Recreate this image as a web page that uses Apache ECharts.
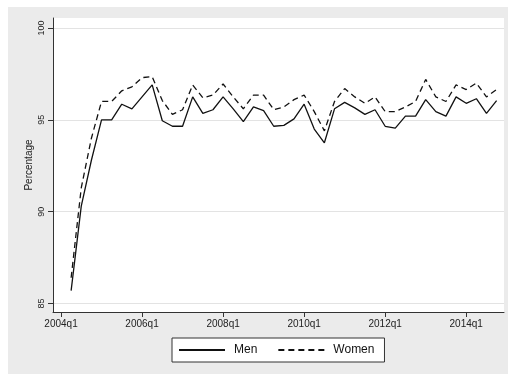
<!DOCTYPE html>
<html>
<head>
<meta charset="utf-8">
<script src="https://cdn.jsdelivr.net/npm/echarts@6/dist/echarts.min.js"></script>
<style>
html,body{margin:0;padding:0;background:#fff;width:508px;height:374px;overflow:hidden;}
#c{position:absolute;left:8px;top:7px;width:500px;height:367px;}
</style>
</head>
<body>
<div id="c"></div>
<script>
var quarters = ["2004q2","2004q3","2004q4",
"2005q1","2005q2","2005q3","2005q4",
"2006q1","2006q2","2006q3","2006q4",
"2007q1","2007q2","2007q3","2007q4",
"2008q1","2008q2","2008q3","2008q4",
"2009q1","2009q2","2009q3","2009q4",
"2010q1","2010q2","2010q3","2010q4",
"2011q1","2011q2","2011q3","2011q4",
"2012q1","2012q2","2012q3","2012q4",
"2013q1","2013q2","2013q3","2013q4",
"2014q1","2014q2","2014q3","2014q4"];
var men = [85.7,90.3,92.8,
95.0,95.0,95.85,95.6,
96.25,96.9,94.95,94.65,
94.65,96.25,95.35,95.55,
96.25,95.6,94.9,95.7,
95.5,94.65,94.7,95.05,
95.85,94.5,93.75,95.6,
95.95,95.65,95.3,95.55,
94.65,94.55,95.2,95.2,
96.1,95.45,95.2,96.25,
95.9,96.15,95.35,96.05];
var women = [86.4,91.3,94.0,
96.0,96.0,96.58,96.8,
97.3,97.35,96.05,95.3,
95.55,96.9,96.2,96.35,
96.95,96.25,95.6,96.35,
96.35,95.55,95.7,96.1,
96.35,95.45,94.4,96.0,
96.7,96.25,95.9,96.25,
95.45,95.45,95.7,96.0,
97.2,96.25,96.0,96.9,
96.65,97.0,96.25,96.65];
var xTickLabels = ["2004q1","2006q1","2008q1","2010q1","2012q1","2014q1"];
var yTicks = [85,90,95,100];
var seriesNames = ["Men","Women"];

function qIndex(s){
  var y = parseInt(s.slice(0,4),10), q = parseInt(s.slice(5),10);
  return (y - 2004) * 4 + (q - 1);
}
var xTickVals = xTickLabels.map(qIndex);
var labelMap = {};
xTickLabels.forEach(function(l){ labelMap[qIndex(l)] = l; });

function pairs(vals){ return quarters.map(function(q,i){ return [qIndex(q), vals[i]]; }); }

var chart = echarts.init(document.getElementById('c'), null, {renderer:'canvas'});
var font = 'Liberation Sans, Arial, sans-serif';
chart.setOption({
  animation:false,
  backgroundColor:'#ebebeb',
  textStyle:{fontFamily:font},
  grid:{left:45, top:11, right:4, bottom:62, show:true, backgroundColor:'#ffffff', borderWidth:0},
  xAxis:{
    type:'value', min:-0.79, max:43.73,
    axisLine:{show:true, onZero:false, lineStyle:{color:'#333', width:1}},
    axisTick:{show:true, customValues:xTickVals, length:5, lineStyle:{color:'#333'}},
    axisLabel:{customValues:xTickVals, formatter:function(v){return labelMap[v]||'';}, color:'#222', fontSize:10, margin:7, fontFamily:font},
    splitLine:{show:false}
  },
  yAxis:{
    type:'value', min:84.537, max:100.545,
    name:'Percentage', nameLocation:'middle', nameGap:19, nameRotate:90, nameMoveOverlap:false,
    nameTextStyle:{color:'#222', fontSize:10, fontFamily:font},
    axisLine:{show:true, onZero:false, lineStyle:{color:'#333', width:1}},
    axisTick:{show:true, customValues:yTicks, length:5, lineStyle:{color:'#333'}},
    axisLabel:{customValues:yTicks, rotate:90, color:'#222', fontSize:9, margin:7, fontFamily:font},
    splitLine:{show:true, lineStyle:{color:'#e3e3e3', width:1}}
  },
  legend:{
    left:164, top:331, orient:'horizontal',
    backgroundColor:'#ffffff', borderColor:'#333', borderWidth:1, borderRadius:0,
    padding:[6,10,6,6], itemGap:20, itemWidth:46, itemHeight:12,
    itemStyle:{color:'rgba(0,0,0,0)', borderWidth:0, opacity:0},
    textStyle:{color:'#111', fontSize:12, fontFamily:font, padding:[0,0,0,4]},
    data:seriesNames
  },
  series:[
    {name:seriesNames[0], type:'line', data:pairs(men), symbol:'none', showSymbol:false,
     lineStyle:{color:'#111', width:1.3, type:'solid'}, itemStyle:{color:'#111'}},
    {name:seriesNames[1], type:'line', data:pairs(women), symbol:'none', showSymbol:false,
     lineStyle:{color:'#111', width:1.3, type:[6,4]}, itemStyle:{color:'#111'}}
  ]
});
</script>
</body>
</html>
